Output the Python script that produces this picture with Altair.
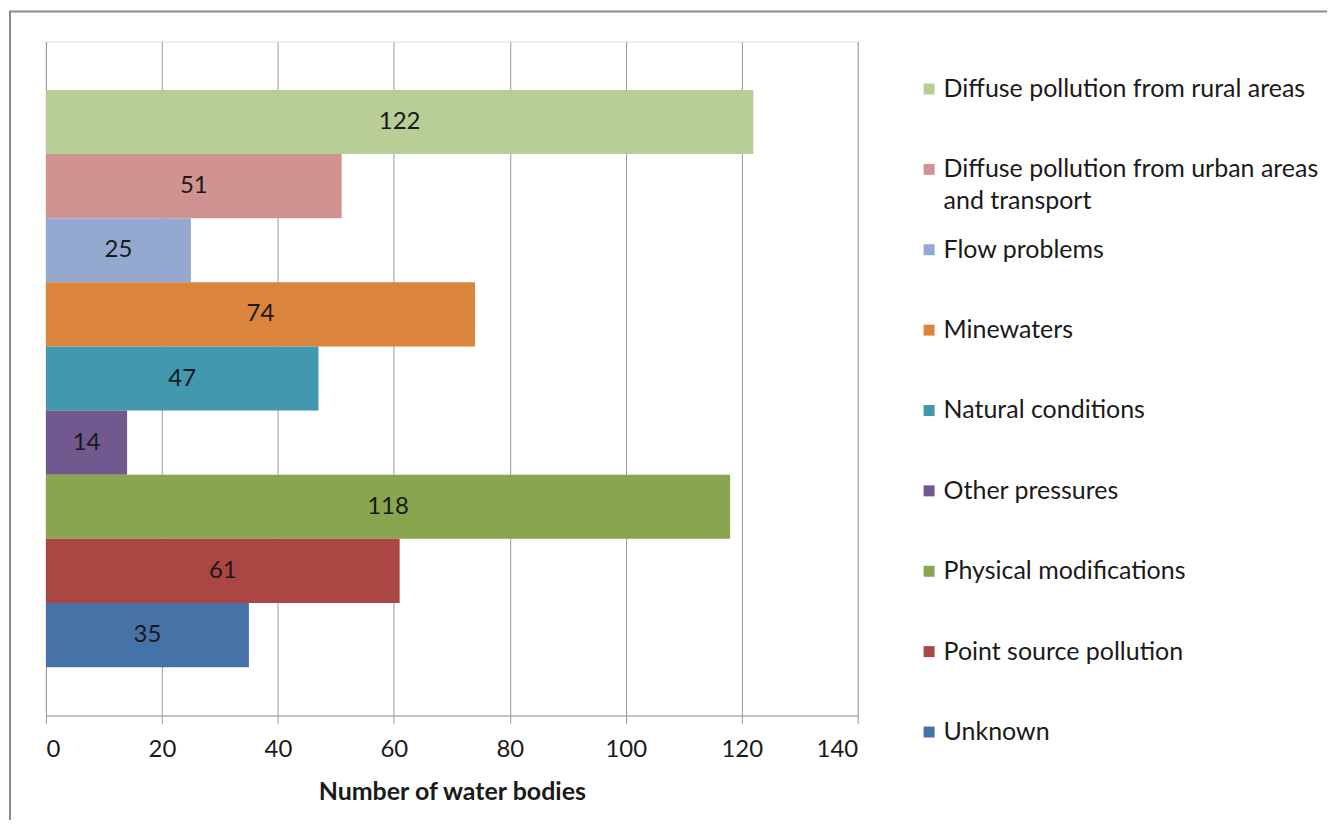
import altair as alt
import pandas as pd

categories = [
    "Diffuse pollution from rural areas",
    "Diffuse pollution from urban areas and transport",
    "Flow problems",
    "Minewaters",
    "Natural conditions",
    "Other pressures",
    "Physical modifications",
    "Point source pollution",
    "Unknown",
]
values = [122, 51, 25, 74, 47, 14, 118, 61, 35]
colors = ["#B9CD96", "#D19392", "#93A9CF", "#DB843D", "#4198AF",
          "#71588F", "#89A54E", "#AA4643", "#4572A7"]
x_ticks = [0, 20, 40, 60, 80, 100, 120, 140]

df = pd.DataFrame({"pressure": categories, "count": values})

FONT = "Lato"
TEXT = "#1a1a1a"
GRID = "#9a9a9a"

y_enc = alt.Y("pressure:N", sort=categories,
              scale=alt.Scale(paddingInner=0, paddingOuter=0.755),
              axis=alt.Axis(labels=False, ticks=False, title=None, grid=False,
                            domainColor=GRID, domainWidth=1))

frame = alt.Chart(pd.DataFrame({"a": [0]})).mark_rect(
    fillOpacity=0, stroke="#8a8a8a", strokeWidth=2, clip=False
).encode(x=alt.value(-36), x2=alt.value(1500), y=alt.value(-30), y2=alt.value(1000))

bars = alt.Chart(df).mark_bar(opacity=1).encode(
    x=alt.X("count:Q", scale=alt.Scale(domain=[0, 140], nice=False),
            axis=alt.Axis(values=x_ticks, title="Number of water bodies",
                          grid=True, gridColor=GRID, gridWidth=1,
                          domainColor=GRID, tickColor=GRID, tickSize=8,
                          labelFont=FONT, labelFontSize=24, labelColor=TEXT,
                          labelPadding=14,
                          titleFont=FONT, titleFontSize=25, titleFontWeight="bold",
                          titleColor=TEXT, titlePadding=18)),
    y=y_enc,
    color=alt.Color("pressure:N", sort=categories,
                    scale=alt.Scale(domain=categories, range=colors),
                    legend=alt.Legend(
                        title=None, orient="none", legendX=872, legendY=35,
                        symbolType="square", symbolSize=121, symbolStrokeWidth=0,
                        symbolOpacity=1,
                        labelFont=FONT, labelFontSize=25, labelColor=TEXT,
                        labelLimit=600, labelOffset=2,
                        rowPadding=22.5, gridAlign="all", padding=0,
                        labelExpr="datum.label == 'Diffuse pollution from urban areas and transport' ? ['Diffuse pollution from urban areas', 'and transport'] : datum.label",
                    )),
)

labels = alt.Chart(df).mark_text(font=FONT, fontSize=24, color=TEXT,
                                 align="center", baseline="middle").encode(
    x=alt.X("mid:Q"),
    y=alt.Y("pressure:N", sort=categories),
    text=alt.Text("count:Q"),
).transform_calculate(mid="datum.count / 2")

chart = alt.layer(frame, bars, labels).properties(
    width=813, height=675,
    autosize=alt.AutoSizeParams(type="none"),
    padding={"left": 38, "top": 33, "right": 470, "bottom": 104},
    background="white",
).configure_view(stroke=None).configure(style={"guide-label": {"lineHeight": 32}})

chart.save("out.html", embed_options={"renderer": "svg", "actions": False})
